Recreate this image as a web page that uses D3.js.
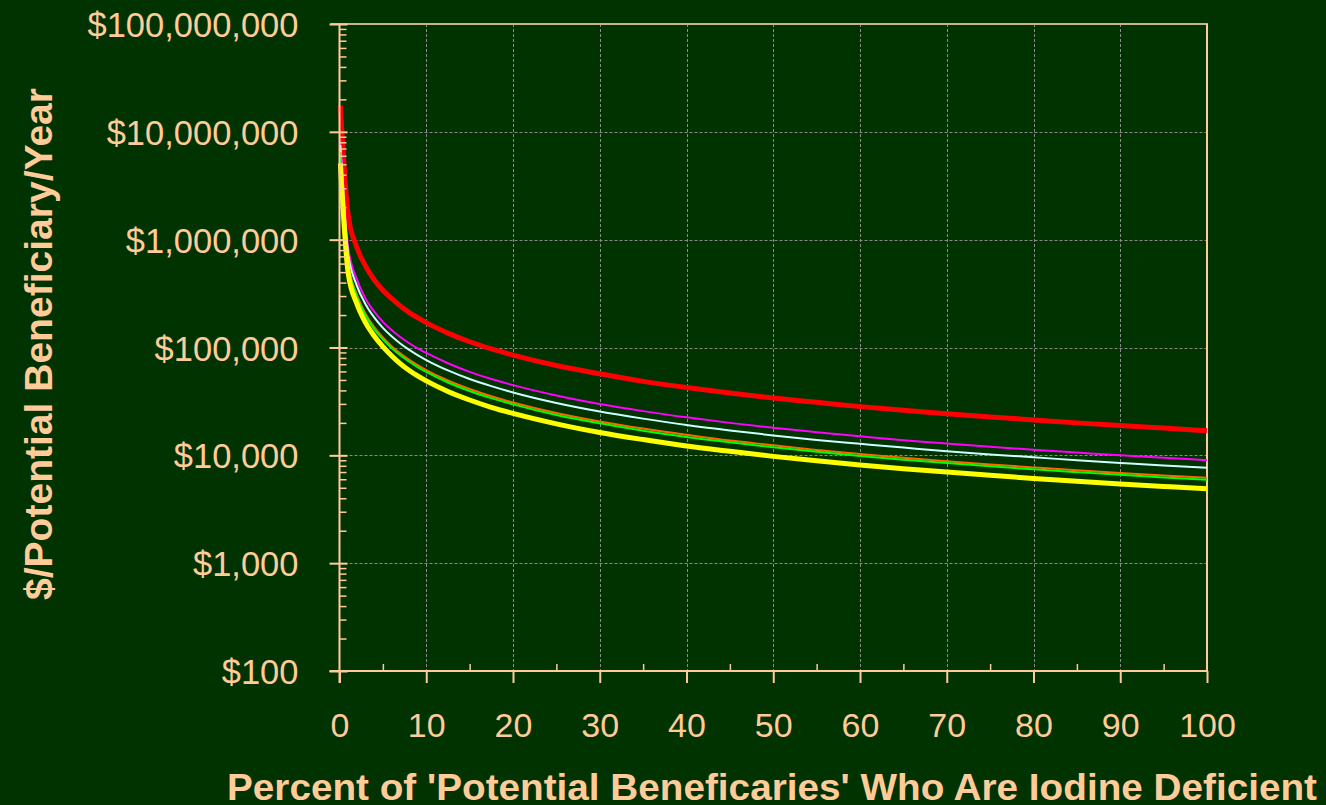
<!DOCTYPE html>
<html>
<head>
<meta charset="utf-8">
<script src="https://cdn.jsdelivr.net/npm/d3@7"></script>
<style>
  html, body { margin: 0; padding: 0; background: #003300; }
  svg { display: block; }
  text { font-family: "Liberation Sans", Arial, sans-serif; }
</style>
</head>
<body>
<svg id="chart" width="1326" height="805"></svg>
<script>
// Percent of potential beneficiaries who are iodine deficient
const pctPoints = [0.1, 1, 2, 3, 4, 5, 6, 7, 8, 9, 10, 12.5, 15, 17.5, 20, 25, 30, 35, 40, 45, 50, 55, 60, 65, 70, 75, 80, 85, 90, 95, 100];

// Cost per potential beneficiary per year, one array per scenario
const costRed = [17500000, 1700000, 850000, 570000, 425000, 340000, 285000, 243000, 212000, 189000, 170000, 136000, 113000, 97000, 85000, 68000, 57000, 48500, 42500, 37800, 34000, 31000, 28300, 26200, 24300, 22700, 21300, 20000, 18900, 17900, 16900];
const costMagenta = [8400000, 850000, 430000, 285000, 215000, 173000, 145000, 125000, 110000, 98000, 89000, 71500, 59500, 51000, 44800, 35900, 29900, 25700, 22500, 20000, 18000, 16400, 15000, 13800, 12900, 12000, 11250, 10600, 10000, 9500, 9000];
const costWhite = [7550000, 740000, 375000, 252000, 190000, 152000, 127000, 109000, 95500, 85000, 76500, 61300, 51000, 43800, 38300, 30600, 25500, 21900, 19100, 17000, 15300, 13900, 12800, 11800, 10900, 10200, 9600, 9000, 8500, 8050, 7660];
const costOrange = [6500000, 620000, 310000, 206000, 155000, 124000, 103000, 88300, 77300, 68700, 61800, 49400, 41200, 35300, 30900, 24700, 20600, 17700, 15500, 13700, 12400, 11200, 10300, 9500, 8830, 8240, 7730, 7270, 6870, 6510, 6180];
const costGreen = [6300000, 600000, 297000, 198000, 148000, 119000, 98800, 84700, 74100, 65900, 59300, 47400, 39500, 33900, 29700, 23700, 19800, 16900, 14800, 13200, 11900, 10800, 9880, 9120, 8470, 7910, 7410, 6980, 6590, 6240, 5930];
const costYellow = [5100000, 490000, 255000, 170000, 128000, 102000, 84000, 71000, 61500, 54500, 49000, 39100, 32600, 27900, 24500, 19600, 16300, 14000, 12200, 10900, 9780, 8890, 8150, 7520, 6990, 6520, 6110, 5750, 5430, 5150, 4890];

// Axis ticks
const xMajorTicks = [0, 10, 20, 30, 40, 50, 60, 70, 80, 90, 100];
const xMinorTicks = [5, 15, 25, 35, 45, 55, 65, 75, 85, 95];
const yMajorTicks = [100, 1000, 10000, 100000, 1000000, 10000000, 100000000];

const xTitle = "Percent of 'Potential Beneficaries' Who Are Iodine Deficient";
const yTitle = "$/Potential Beneficiary/Year";

const series = [
  { values: costRed,     color: "#ff0000", width: 5 },
  { values: costMagenta, color: "#ff00ff", width: 2 },
  { values: costWhite,   color: "#ccffff", width: 2 },
  { values: costOrange,  color: "#ff6600", width: 2 },
  { values: costGreen,   color: "#00ff00", width: 2 },
  { values: costYellow,  color: "#ffff00", width: 5 }
];

(function draw() {
  const tan = "#ffcc99";
  const svg = d3.select("#chart");
  const plotLeft = 339.5, plotRight = 1207, plotTop = 24, plotBottom = 671;

  const x = d3.scaleLinear().domain([0, 100]).range([plotLeft, plotRight]);
  const y = d3.scaleLog().domain([100, 100000000]).range([plotBottom, plotTop]);

  // minor log ticks (2..9 within each decade)
  const yMinorTicks = [];
  for (let d = 100; d < 100000000; d *= 10) {
    for (let k = 2; k <= 9; k++) yMinorTicks.push(d * k);
  }

  // dashed grid
  const grid = svg.append("g");
  grid.selectAll("line.h")
    .data(yMajorTicks.filter(v => v > 100 && v < 100000000))
    .join("line")
    .attr("x1", plotLeft).attr("x2", plotRight)
    .attr("y1", d => Math.round(y(d)) + 0.5).attr("y2", d => Math.round(y(d)) + 0.5)
    .attr("stroke", "#8a8a8a").attr("stroke-width", 1).attr("stroke-dasharray", "3,2");
  grid.selectAll("line.v")
    .data(xMajorTicks.filter(v => v > 0 && v < 100))
    .join("line")
    .attr("x1", d => Math.round(x(d)) + 0.5).attr("x2", d => Math.round(x(d)) + 0.5)
    .attr("y1", plotTop).attr("y2", plotBottom)
    .attr("stroke", "#8a8a8a").attr("stroke-width", 1).attr("stroke-dasharray", "3,2");

  // plot frame: top and right edges
  svg.append("line")
    .attr("x1", plotLeft - 9).attr("x2", plotRight + 1)
    .attr("y1", y(100000000)).attr("y2", y(100000000))
    .attr("stroke", "#c9b48e").attr("stroke-width", 2);
  svg.append("line")
    .attr("x1", x(100)).attr("x2", x(100))
    .attr("y1", plotTop).attr("y2", plotBottom)
    .attr("stroke", tan).attr("stroke-width", 2);

  // data lines
  const line = d3.line()
    .x((d, i) => x(pctPoints[i]))
    .y(d => y(d))
    .curve(d3.curveMonotoneX);

  svg.append("g")
    .selectAll("path")
    .data(series)
    .join("path")
    .attr("d", s => line(s.values))
    .attr("fill", "none")
    .attr("stroke", s => s.color)
    .attr("stroke-width", s => s.width)
    .attr("stroke-linejoin", "round");

  function styleAxis(g) {
    g.select(".domain").remove();
    g.selectAll(".tick line").attr("stroke", tan).attr("stroke-width", 2);
    g.selectAll("text").attr("fill", tan).attr("font-size", 34.5)
      .attr("font-family", "'Liberation Sans', Arial, sans-serif");
  }

  // y axis: major ticks crossing the axis, minor ticks inside
  const yAxisG = svg.append("g").attr("transform", `translate(${plotLeft},0)`)
    .call(d3.axisLeft(y).tickValues(yMajorTicks).tickSizeInner(10).tickSizeOuter(0)
      .tickPadding(31).tickFormat(d => "$" + d3.format(",")(d)))
    .call(styleAxis);
  yAxisG.selectAll("text").attr("dy", null).attr("y", 12.5);

  svg.append("g").attr("transform", `translate(${plotLeft},0)`)
    .call(d3.axisRight(y).tickValues(yMajorTicks).tickSizeInner(8).tickSizeOuter(0).tickFormat(""))
    .call(styleAxis);
  svg.append("g").attr("transform", `translate(${plotLeft},0)`)
    .call(d3.axisRight(y).tickValues(yMinorTicks).tickSizeInner(7).tickSizeOuter(0).tickFormat(""))
    .call(styleAxis)
    .selectAll(".tick line").attr("stroke-width", 1.5);

  // x axis: major ticks below, minor ticks above
  const xAxisG = svg.append("g").attr("transform", `translate(0,${plotBottom})`)
    .call(d3.axisBottom(x).tickValues(xMajorTicks).tickSizeInner(12).tickSizeOuter(0).tickFormat(d3.format("d")))
    .call(styleAxis);
  xAxisG.selectAll("text").attr("dy", null).attr("y", 66).attr("font-size", 34);

  svg.append("g").attr("transform", `translate(0,${plotBottom})`)
    .call(d3.axisTop(x).tickValues(xMinorTicks).tickSizeInner(7).tickSizeOuter(0).tickFormat(""))
    .call(styleAxis)
    .selectAll(".tick line").attr("stroke-width", 1.5);

  // axis lines
  svg.append("line")
    .attr("x1", plotLeft).attr("x2", plotLeft).attr("y1", plotTop).attr("y2", plotBottom + 12)
    .attr("stroke", tan).attr("stroke-width", 2);
  svg.append("line")
    .attr("x1", plotLeft - 10).attr("x2", plotRight + 1).attr("y1", plotBottom).attr("y2", plotBottom)
    .attr("stroke", tan).attr("stroke-width", 2);

  // axis titles
  svg.append("text")
    .attr("x", 772).attr("y", 800)
    .attr("text-anchor", "middle")
    .attr("font-size", 37).attr("font-weight", "bold").attr("fill", tan)
    .attr("textLength", 1090).attr("lengthAdjust", "spacingAndGlyphs")
    .text(xTitle);

  svg.append("text")
    .attr("transform", "translate(52,344) rotate(-90)")
    .attr("text-anchor", "middle")
    .attr("font-size", 38).attr("font-weight", "bold").attr("fill", tan)
    .attr("textLength", 512).attr("lengthAdjust", "spacingAndGlyphs")
    .text(yTitle);
})();
</script>
</body>
</html>
